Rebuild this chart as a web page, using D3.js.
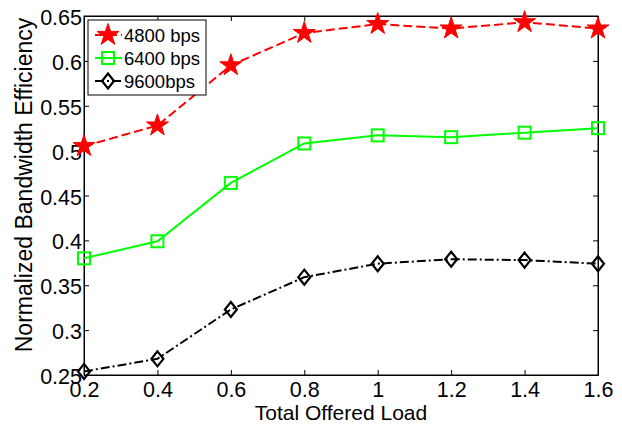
<!DOCTYPE html>
<html>
<head>
<meta charset="utf-8">
<script src="https://cdn.jsdelivr.net/npm/d3@7"></script>
<style>
  body { margin: 0; background: #fff; }
  svg { font-family: "Liberation Sans", Arial, sans-serif; }
</style>
</head>
<body>
<svg id="chart"></svg>
<script>
const loads = [0.2, 0.4, 0.6, 0.8, 1.0, 1.2, 1.4, 1.6];
const eff4800 = [0.505, 0.528, 0.595, 0.631, 0.641, 0.636, 0.643, 0.636];
const eff6400 = [0.380, 0.399, 0.464, 0.508, 0.517, 0.515, 0.520, 0.525];
const eff9600 = [0.254, 0.268, 0.323, 0.359, 0.374, 0.379, 0.378, 0.374];
const xTicks = [0.2, 0.4, 0.6, 0.8, 1, 1.2, 1.4, 1.6];
const yTicks = [0.25, 0.3, 0.35, 0.4, 0.45, 0.5, 0.55, 0.6, 0.65];

const series = [
  { name: "4800 bps", values: eff4800, color: "#ff0000", dash: "9,4", marker: "star" },
  { name: "6400 bps", values: eff6400, color: "#00ff00", dash: null, marker: "square" },
  { name: "9600bps", values: eff9600, color: "#000000", dash: "9,3,2,3", marker: "diamond" }
];

const W = 622, H = 425;
const margin = { top: 16, right: 24, bottom: 50, left: 84 };
const width = W - margin.left - margin.right;
const height = H - margin.top - margin.bottom;

const root = d3.select("#chart").attr("width", W).attr("height", H);
const svg = root.append("g").attr("transform", `translate(${margin.left},${margin.top})`);

const x = d3.scaleLinear().domain([0.2, 1.6]).range([0, width]);
const y = d3.scaleLinear().domain([0.25, 0.65]).range([height, 0]);

// axes (ticks inward, box style)
const fmt = d => d3.format("")(+d.toFixed(2));
svg.append("g")
  .attr("transform", `translate(0,${height})`)
  .call(d3.axisBottom(x).tickValues(xTicks).tickSizeInner(-5).tickSizeOuter(0).tickPadding(7).tickFormat(fmt))
  .call(g => g.selectAll("text").attr("font-size", 21.5).attr("fill", "#000").attr("font-family", null));
svg.append("g")
  .call(d3.axisTop(x).tickValues(xTicks).tickSizeInner(-5).tickSizeOuter(0).tickFormat(""));
svg.append("g")
  .call(d3.axisLeft(y).tickValues(yTicks).tickSizeInner(-5).tickSizeOuter(0).tickPadding(2).tickFormat(fmt))
  .call(g => g.selectAll("text").attr("font-size", 21.5).attr("fill", "#000").attr("font-family", null).attr("dy", "0.4em"));
svg.append("g")
  .attr("transform", `translate(${width},0)`)
  .call(d3.axisRight(y).tickValues(yTicks).tickSizeInner(-5).tickSizeOuter(0).tickFormat(""));
svg.selectAll(".domain").attr("stroke", "#000");
svg.append("rect").attr("width", width).attr("height", height)
  .attr("fill", "none").attr("stroke", "#000").attr("stroke-width", 1);

function drawMarker(g, type, color) {
  if (type === "star") {
    g.append("path").attr("d", d3.symbol(d3.symbolStar, 150)()).attr("fill", color).attr("stroke", color).attr("stroke-width", 1);
  } else if (type === "square") {
    g.append("rect").attr("x", -6).attr("y", -6).attr("width", 12).attr("height", 12)
      .attr("fill", "none").attr("stroke", color).attr("stroke-width", 2);
  } else {
    g.append("path").attr("d", "M0,-7.5L6,0L0,7.5L-6,0Z").attr("fill", "none").attr("stroke", color).attr("stroke-width", 2.2);
  }
}

const line = d3.line().x((d, i) => x(loads[i])).y(d => y(d));

series.forEach(s => {
  svg.append("path").datum(s.values)
    .attr("d", line).attr("fill", "none")
    .attr("stroke", s.color).attr("stroke-width", 2)
    .attr("stroke-dasharray", s.dash);
  s.values.forEach((v, i) => {
    const g = svg.append("g").attr("transform", `translate(${x(loads[i])},${y(v)})`);
    drawMarker(g, s.marker, s.color);
  });
});

// legend
const leg = svg.append("g").attr("transform", "translate(4,4)");
leg.append("rect").attr("width", 118).attr("height", 75).attr("fill", "#fff").attr("stroke", "#000").attr("stroke-width", 1);
series.forEach((s, i) => {
  const cy = 15 + i * 23;
  leg.append("line").attr("x1", 7).attr("x2", 34).attr("y1", cy).attr("y2", cy)
    .attr("stroke", s.color).attr("stroke-width", 2).attr("stroke-dasharray", s.dash);
  const g = leg.append("g").attr("transform", `translate(20,${cy})`);
  drawMarker(g, s.marker, s.color);
  leg.append("text").attr("x", 36).attr("y", cy).attr("dy", "0.36em")
    .attr("font-size", 18.5).text(s.name);
});

// axis titles
root.append("text")
  .attr("x", margin.left + width / 2).attr("y", 420)
  .attr("text-anchor", "middle").attr("font-size", 21)
  .text("Total Offered Load");
root.append("text")
  .attr("transform", "translate(32,185) rotate(-90)")
  .attr("text-anchor", "middle").attr("font-size", 23)
  .text("Normalized Bandwidth Efficiency");
</script>
</body>
</html>
